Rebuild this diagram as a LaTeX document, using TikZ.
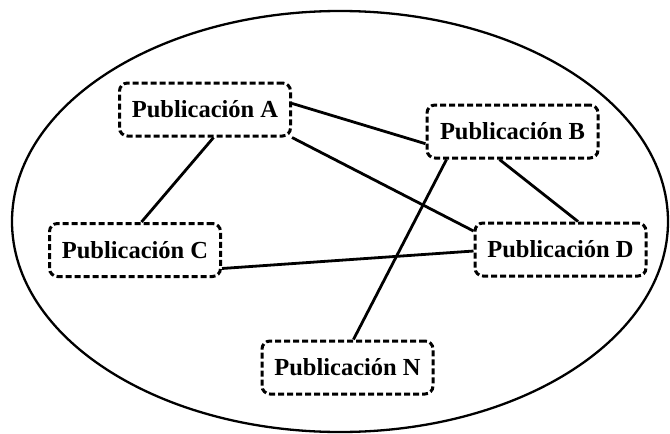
\documentclass[tikz,border=0pt]{standalone}
\usepackage{fontspec}
\setmainfont{Liberation Serif}
\usetikzlibrary{positioning}

\begin{document}
\begin{tikzpicture}[x=1pt, y=-1pt,
        pub/.style={draw, line width=3pt, dash pattern=on 6pt off 3pt, rounded corners=8pt,
            minimum width=171pt, minimum height=53pt, inner sep=0pt,
            font=\fontsize{24.5}{28}\selectfont\bfseries},
        link/.style={line width=2.8pt}]
        \useasboundingbox (0,0) rectangle (670,434);

        % Outer set
        \draw[line width=2.3pt] (340,221.5) ellipse [x radius=328, y radius=210.5];

        % Publications
        \node[pub] (pubA) at (205,109.5) {Publicación A};
        \node[pub] (pubB) at (512.5,131.5) {Publicación B};
        \node[pub] (pubC) at (135,250) {Publicación C};
        \node[pub] (pubD) at (560.5,249.5) {Publicación D};
        \node[pub] (pubN) at (347.5,367.5) {Publicación N};

        % Links between publications
        \draw[link] (pubA.4) -- (pubB.188);
        \draw[link] (pubA.-73) -- (pubC.77);
        \draw[link] (pubA.south east) -- (pubD.168);
        \draw[link] (pubB.203) -- (pubN.78);
        \draw[link] (pubB.245) -- (pubD.58);
        \draw[link] (pubC.-12) -- (pubD.181);

    \end{tikzpicture}
\end{document}
